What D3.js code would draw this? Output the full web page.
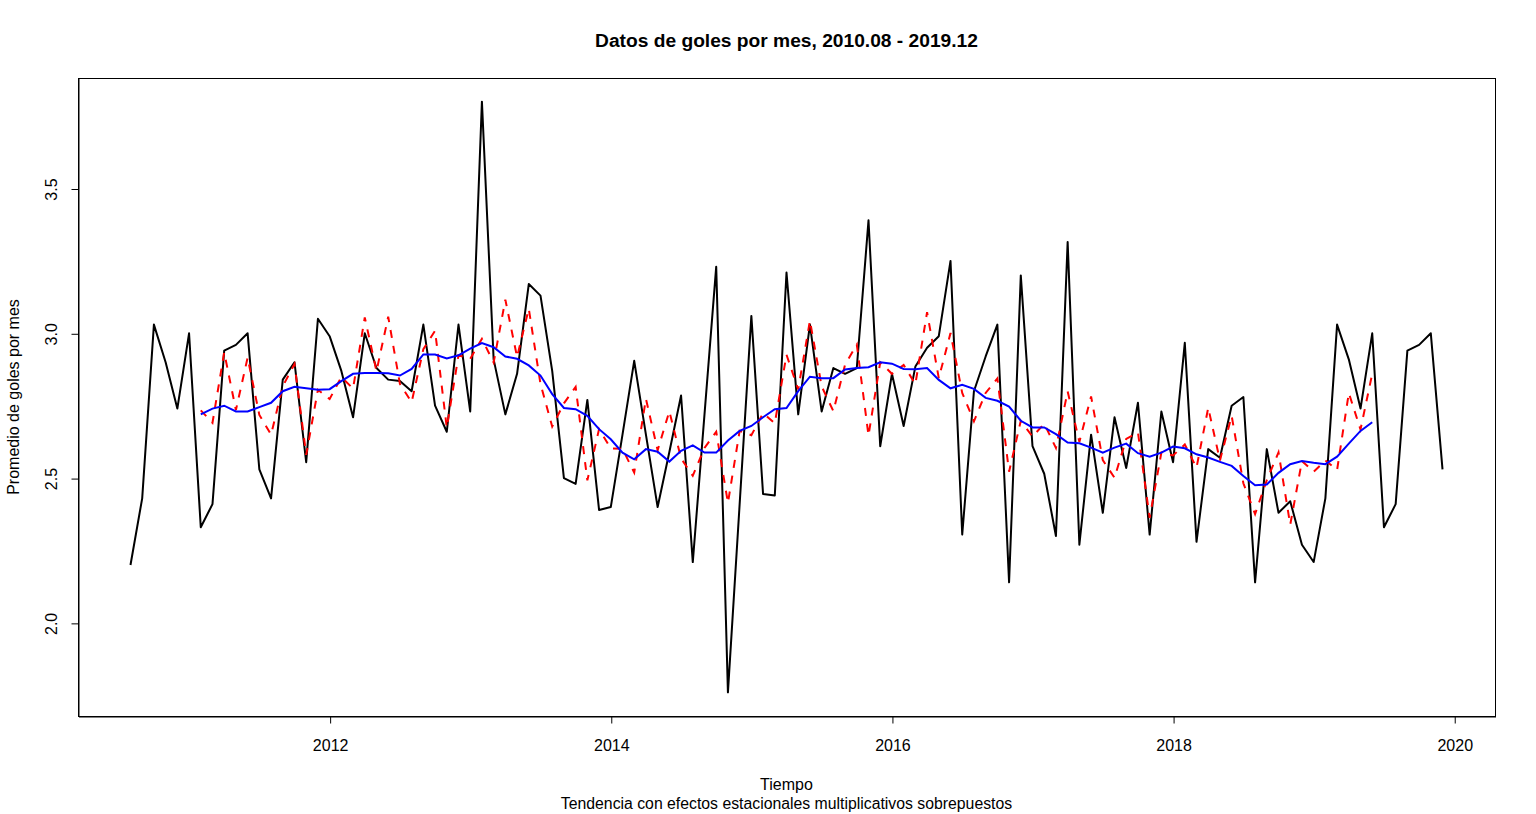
<!DOCTYPE html>
<html>
<head>
<meta charset="utf-8">
<script src="https://cdn.jsdelivr.net/npm/d3@7"></script>
<style>
  body { margin: 0; background: #fff; }
  text { font-family: "Liberation Sans", Arial, sans-serif; }
</style>
</head>
<body>
<div id="chart"></div>
<script>
// Serie mensual desde 2010.08 hasta 2019.12
var inicio = 2010 + 7 / 12;

var golesMes = [
  2.20, 2.43, 3.03, 2.90, 2.74, 3.00, 2.33, 2.41, 2.94, 2.96, 3.00, 2.53,
  2.43, 2.84, 2.90, 2.555, 3.05, 2.99, 2.87, 2.71, 3.00, 2.88, 2.84, 2.835,
  2.80, 3.03, 2.75, 2.66, 3.03, 2.73, 3.80, 2.91, 2.72, 2.86, 3.17, 3.13,
  2.87, 2.50, 2.48, 2.77, 2.39, 2.40, 2.65, 2.905, 2.65, 2.40, 2.59, 2.785,
  2.21, 2.72, 3.23, 1.76, 2.41, 3.06, 2.445, 2.44, 3.21, 2.72, 3.03, 2.73,
  2.88, 2.86, 2.88, 3.39, 2.61, 2.86, 2.68, 2.885, 2.95, 2.99, 3.25, 2.305,
  2.80, 2.92, 3.03, 2.14, 3.20, 2.61, 2.515, 2.30, 3.315, 2.27, 2.65, 2.38,
  2.71, 2.535, 2.76, 2.305, 2.73, 2.555, 2.967, 2.28, 2.60, 2.57, 2.75, 2.78,
  2.14, 2.60, 2.38, 2.42, 2.27, 2.21, 2.43, 3.03, 2.91, 2.74, 3.00, 2.33,
  2.41, 2.94, 2.96, 3.00, 2.53
];

// Tendencia (media movil), empieza 6 meses despues: 2011.02 - 2019.06
var inicioTendencia = 2011 + 1 / 12;

var tendencia = [
  2.720, 2.740, 2.750, 2.730, 2.730, 2.745, 2.760, 2.800, 2.815, 2.810, 2.805,
  2.807, 2.835, 2.860, 2.863, 2.863, 2.862, 2.854, 2.877, 2.927, 2.927, 2.913, 2.924,
  2.947, 2.966, 2.952, 2.920, 2.912, 2.889, 2.854, 2.790, 2.742, 2.738, 2.715, 2.669,
  2.634, 2.588, 2.565, 2.600, 2.591, 2.557, 2.594, 2.613, 2.588, 2.588, 2.630, 2.663,
  2.680, 2.710, 2.738, 2.742, 2.800, 2.850, 2.845, 2.845, 2.875, 2.880, 2.883, 2.900,
  2.895, 2.877, 2.876, 2.880, 2.839, 2.810, 2.822, 2.808, 2.777, 2.767, 2.747, 2.698,
  2.675, 2.675, 2.652, 2.623, 2.620, 2.605, 2.588, 2.605, 2.619, 2.586, 2.574, 2.588,
  2.609, 2.603, 2.582, 2.571, 2.556, 2.542, 2.507, 2.475, 2.478, 2.518, 2.548, 2.559,
  2.553, 2.548, 2.574, 2.619, 2.663, 2.693
];

// Tendencia con efectos estacionales multiplicativos
var tendenciaEstacional = [
  2.734, 2.691, 2.934, 2.735, 2.916, 2.718, 2.650, 2.817, 2.894, 2.580, 2.805,
  2.773, 2.849, 2.809, 3.055, 2.869, 3.057, 2.825, 2.762, 2.945, 3.009, 2.674, 2.924,
  2.912, 2.981, 2.899, 3.116, 2.918, 3.085, 2.825, 2.678, 2.758, 2.815, 2.492, 2.669,
  2.602, 2.601, 2.519, 2.774, 2.596, 2.731, 2.568, 2.508, 2.604, 2.660, 2.414, 2.663,
  2.648, 2.724, 2.689, 2.926, 2.806, 3.044, 2.817, 2.731, 2.892, 2.961, 2.647, 2.900,
  2.860, 2.891, 2.824, 3.073, 2.845, 3.001, 2.794, 2.696, 2.794, 2.844, 2.522, 2.698,
  2.643, 2.688, 2.604, 2.799, 2.625, 2.782, 2.562, 2.501, 2.635, 2.658, 2.363, 2.588,
  2.578, 2.616, 2.536, 2.743, 2.561, 2.715, 2.482, 2.376, 2.493, 2.589, 2.339, 2.559,
  2.522, 2.561, 2.528, 2.794, 2.668, 2.860
];

var ticksX = [2012, 2014, 2016, 2018, 2020];
var ticksY = [2.0, 2.5, 3.0, 3.5];

var width = 1536, height = 814;
var margin = { left: 78, right: 41, top: 78, bottom: 98 };

function translate(x, y) {
  return 'translate(' + x + ', ' + y + ')';
}

var serie = golesMes.map(function(v, i) { return { t: inicio + i / 12, v: v }; });
var trend = tendencia.map(function(v, i) { return { t: inicioTendencia + i / 12, v: v }; });
var trendEst = tendenciaEstacional.map(function(v, i) { return { t: inicioTendencia + i / 12, v: v }; });

var svg = d3.select('#chart').append('svg')
  .attr('width', width)
  .attr('height', height);

// Escalas con 4% de margen como en R
var tExt = d3.extent(serie, function(d) { return d.t; });
var tPad = (tExt[1] - tExt[0]) * 0.04;
var vExt = d3.extent(serie, function(d) { return d.v; });
var vPad = (vExt[1] - vExt[0]) * 0.04;

var x = d3.scaleLinear()
  .domain([tExt[0] - tPad, tExt[1] + tPad])
  .range([margin.left, width - margin.right]);

var y = d3.scaleLinear()
  .domain([vExt[0] - vPad, vExt[1] + vPad])
  .range([height - margin.bottom, margin.top]);

var line = d3.line()
  .x(function(d) { return x(d.t); })
  .y(function(d) { return y(d.v); });

// Lineas
svg.append('path')
  .datum(serie)
  .attr('d', line)
  .attr('fill', 'none')
  .attr('stroke', '#000')
  .attr('stroke-width', 2)
  .attr('stroke-linejoin', 'round');

svg.append('path')
  .datum(trendEst)
  .attr('d', line)
  .attr('fill', 'none')
  .attr('stroke', '#ff0000')
  .attr('stroke-width', 2)
  .attr('stroke-dasharray', '8,8');

svg.append('path')
  .datum(trend)
  .attr('d', line)
  .attr('fill', 'none')
  .attr('stroke', '#0000ff')
  .attr('stroke-width', 2);

// Caja
svg.append('rect')
  .attr('x', margin.left + 0.5)
  .attr('y', margin.top + 0.5)
  .attr('width', width - margin.left - margin.right)
  .attr('height', height - margin.top - margin.bottom)
  .attr('fill', 'none')
  .attr('stroke', '#000')
  .attr('stroke-width', 1);

// Ejes
var xAxis = d3.axisBottom(x)
  .tickValues(ticksX)
  .tickSize(7)
  .tickSizeOuter(0)
  .tickPadding(16)
  .tickFormat(d3.format('d'));

var gx = svg.append('g')
  .attr('transform', translate(0.5, height - margin.bottom + 0.5))
  .call(xAxis);
gx.selectAll('text').style('font-size', '16px').attr('fill', '#000');

var yAxis = d3.axisLeft(y)
  .tickValues(ticksY)
  .tickSize(7)
  .tickSizeOuter(0)
  .tickFormat(d3.format('.1f'));

var gy = svg.append('g')
  .attr('transform', translate(margin.left + 0.5, 0.5))
  .call(yAxis);
gy.selectAll('text')
  .style('font-size', '16px')
  .attr('fill', '#000')
  .attr('x', 0)
  .attr('dy', 0)
  .attr('text-anchor', 'middle')
  .attr('transform', function(d) { return 'translate(-22,0) rotate(-90)'; });

// Textos
svg.append('text')
  .attr('x', (margin.left + width - margin.right) / 2)
  .attr('y', 47)
  .attr('text-anchor', 'middle')
  .style('font-size', '19.2px')
  .style('font-weight', 'bold')
  .text('Datos de goles por mes, 2010.08 - 2019.12');

svg.append('text')
  .attr('x', (margin.left + width - margin.right) / 2)
  .attr('y', 790)
  .attr('text-anchor', 'middle')
  .style('font-size', '16px')
  .text('Tiempo');

svg.append('text')
  .attr('x', (margin.left + width - margin.right) / 2)
  .attr('y', 809)
  .attr('text-anchor', 'middle')
  .style('font-size', '15.8px')
  .text('Tendencia con efectos estacionales multiplicativos sobrepuestos');

svg.append('text')
  .attr('transform', translate(19, (margin.top + height - margin.bottom) / 2) + ' rotate(-90)')
  .attr('text-anchor', 'middle')
  .style('font-size', '16px')
  .text('Promedio de goles por mes');
</script>
</body>
</html>
